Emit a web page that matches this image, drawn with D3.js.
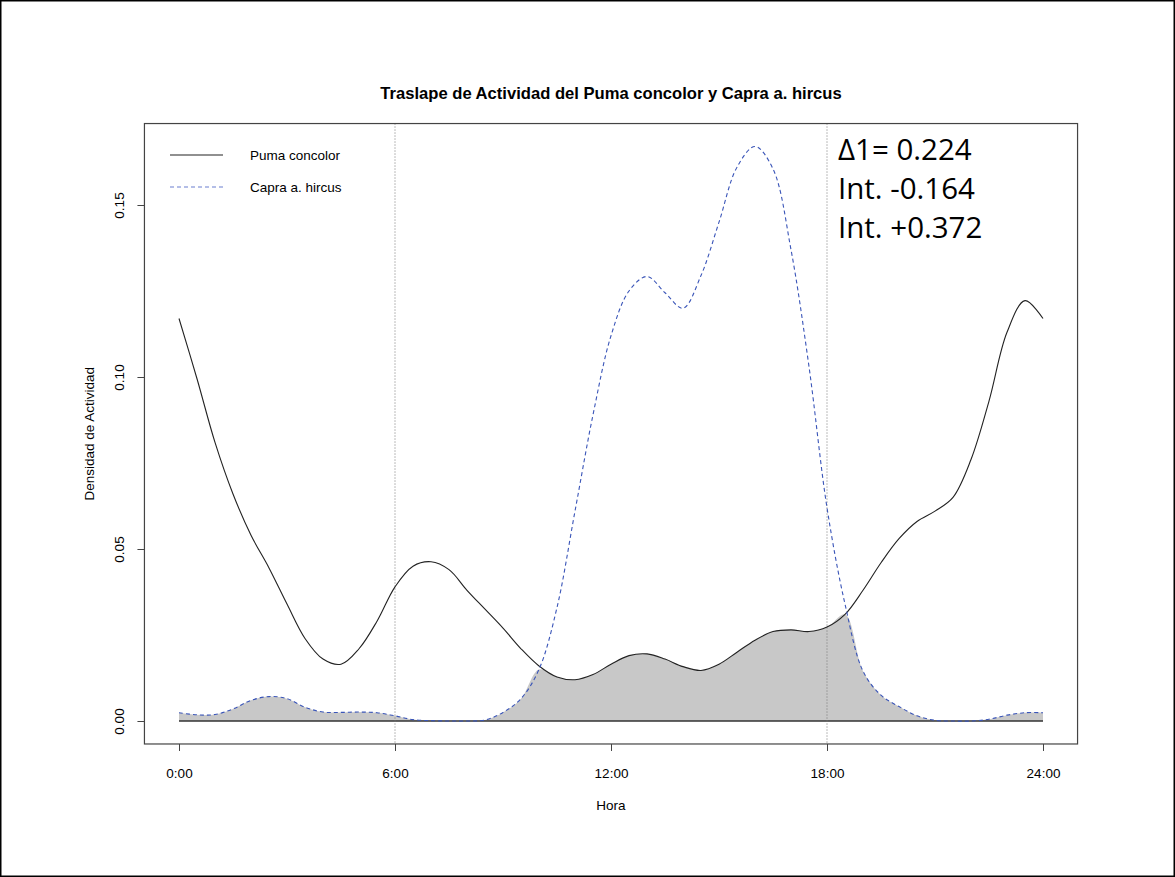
<!DOCTYPE html>
<html>
<head>
<meta charset="utf-8">
<script src="https://cdn.jsdelivr.net/npm/d3@7"></script>
<style>
  html, body { margin: 0; padding: 0; background: #fff; }
  svg { display: block; }
  text { font-family: "Liberation Sans", Arial, sans-serif; fill: #000; }
</style>
</head>
<body>
<svg id="chart" width="1175" height="877"></svg>
<script>
// Hour of day sampled every half hour
const hours = [0,0.5,1,1.5,2,2.5,3,3.5,4,4.5,5,5.5,6,6.5,7,7.5,8,8.5,9,9.5,10,10.5,11,11.5,12,
               12.5,13,13.5,14,14.5,15,15.5,16,16.5,17,17.5,18,18.5,19,19.5,20,20.5,21,21.5,22,22.5,23,23.5,24];

// Kernel activity density, Puma concolor
const puma = [0.117,0.0995,0.081,0.066,0.054,0.0445,0.034,0.024,0.018,0.0165,0.021,0.029,0.039,0.045,0.0463,0.044,0.038,
              0.0325,0.027,0.021,0.016,0.0128,0.012,0.0135,0.0165,0.019,0.0195,0.018,0.0158,0.0147,0.0165,0.020,0.0235,
              0.026,0.0265,0.026,0.0273,0.031,0.038,0.046,0.053,0.058,0.061,0.065,0.076,0.093,0.113,0.1222,0.117];

// Kernel activity density, Capra a. hircus
const capra = [0.0024,0.0018,0.0019,0.0035,0.0060,0.0071,0.0065,0.0040,0.0026,0.0025,0.0026,0.0024,0.0015,0.0004,0.0001,0,0,
               0.0003,0.0025,0.0065,0.015,0.033,0.061,0.089,0.112,0.125,0.1292,0.1245,0.120,0.1295,0.145,0.161,0.167,
               0.1605,0.137,0.103,0.062,0.034,0.0145,0.0075,0.0042,0.0015,0.0002,0,0,0.0005,0.0017,0.0024,0.0024];

const xTicks = [0, 6, 12, 18, 24];
const xTickLabels = ["0:00", "6:00", "12:00", "18:00", "24:00"];
const yTicks = [0, 0.05, 0.10, 0.15];
const yTickLabels = ["0.00", "0.05", "0.10", "0.15"];
const refHours = [6, 18];
const seriesNames = ["Puma concolor", "Capra a. hircus"];
const statLines = ["\u03941= 0.224", "Int. -0.164", "Int. +0.372"];
const titleText = "Traslape de Actividad del Puma concolor y Capra a. hircus";

const svg = d3.select("#chart");

// Outer frame of the figure
svg.append("rect").attr("x", 0.75).attr("y", 0.75).attr("width", 1173.5).attr("height", 875.5)
  .attr("fill", "none").attr("stroke", "#000").attr("stroke-width", 1.5);

// Scales, with the usual 4% padding around the data range
const x = d3.scaleLinear().domain([0, 24]).range([179, 1043]);
const yMax = d3.max(capra.concat(puma));
const y = d3.scaleLinear().domain([0, 0.15]).range([721, 205]);
const xPad = 24 * 0.04, yPad = yMax * 0.04;
const box = { x0: x(-xPad), x1: x(24 + xPad), y0: y(yMax + yPad), y1: y(-yPad) };

const pts = hours.map((h, i) => ({ h, p: puma[i], c: capra[i], m: Math.min(puma[i], capra[i]) }));
const curve = d3.curveCatmullRom.alpha(0.5);
const clampY = v => y(Math.max(0, v));

// Overlap area: the minimum of both densities
svg.append("path")
  .datum(pts)
  .attr("fill", "#c8c8c8")
  .attr("d", d3.area().curve(curve).x(d => x(d.h)).y0(y(0)).y1(d => clampY(d.m)));

// Baseline of the overlap polygon
svg.append("line").attr("x1", x(0)).attr("x2", x(24)).attr("y1", y(0)).attr("y2", y(0))
  .attr("stroke", "#333").attr("stroke-width", 1.4);

// Reference lines at sunrise / sunset
svg.selectAll("line.ref").data(refHours).join("line").attr("class", "ref")
  .attr("x1", d => x(d)).attr("x2", d => x(d)).attr("y1", box.y0).attr("y2", box.y1)
  .attr("stroke", "#777").attr("stroke-width", 1).attr("stroke-dasharray", "1,2");

// Density curves
const lineGen = key => d3.line().curve(curve).x(d => x(d.h)).y(d => clampY(d[key]));
svg.append("path").datum(pts).attr("fill", "none").attr("stroke", "#222").attr("stroke-width", 1.1)
  .attr("d", lineGen("p"));
svg.append("path").datum(pts).attr("fill", "none").attr("stroke", "#3a55b8").attr("stroke-width", 1.1)
  .attr("stroke-dasharray", "4,3").attr("d", lineGen("c"));

// Plot box
svg.append("rect").attr("x", box.x0).attr("y", box.y0)
  .attr("width", box.x1 - box.x0).attr("height", box.y1 - box.y0)
  .attr("fill", "none").attr("stroke", "#444").attr("stroke-width", 1.2);

// X axis
const xAxis = svg.append("g").attr("transform", `translate(0,${box.y1})`)
  .call(d3.axisBottom(x).tickValues(xTicks).tickFormat((d, i) => xTickLabels[i])
        .tickSize(7).tickPadding(17).tickSizeOuter(0));
xAxis.select(".domain").remove();
xAxis.selectAll("line").attr("stroke", "#444");
xAxis.selectAll("text").attr("font-size", 13.5).attr("font-family", "Liberation Sans, Arial, sans-serif");

// Y axis with vertical labels
const yAxis = svg.append("g").attr("transform", `translate(${box.x0},0)`)
  .call(d3.axisLeft(y).tickValues(yTicks).tickFormat((d, i) => yTickLabels[i])
        .tickSize(7).tickSizeOuter(0));
yAxis.select(".domain").remove();
yAxis.selectAll("line").attr("stroke", "#444");
yAxis.selectAll("text")
  .attr("x", 0).attr("dy", 0)
  .attr("text-anchor", "middle")
  .attr("transform", "translate(-20,0) rotate(-90)")
  .attr("font-size", 13.5).attr("font-family", "Liberation Sans, Arial, sans-serif");

// Titles
const cx = (box.x0 + box.x1) / 2;
svg.append("text").attr("x", cx).attr("y", 99).attr("text-anchor", "middle")
  .attr("font-size", 16.6).attr("font-weight", "bold").text(titleText);
svg.append("text").attr("x", cx).attr("y", 810).attr("text-anchor", "middle")
  .attr("font-size", 13.5).text("Hora");
svg.append("text").attr("transform", `translate(94,${(box.y0 + box.y1) / 2}) rotate(-90)`)
  .attr("text-anchor", "middle").attr("font-size", 13.5).text("Densidad de Actividad");

// Legend
const legend = svg.append("g");
const legendRows = [
  { name: seriesNames[0], stroke: "#222", dash: null, y: 155 },
  { name: seriesNames[1], stroke: "#6a7fd0", dash: "4,3", y: 187 }
];
legendRows.forEach(r => {
  legend.append("line").attr("x1", 170).attr("x2", 223).attr("y1", r.y).attr("y2", r.y)
    .attr("stroke", r.stroke).attr("stroke-width", 1.1).attr("stroke-dasharray", r.dash);
  legend.append("text").attr("x", 250).attr("y", r.y + 5).attr("font-size", 13.5).text(r.name);
});

// Overlap statistics
svg.append("g").selectAll("text").data(statLines).join("text")
  .attr("x", 838).attr("y", (d, i) => 160 + i * 39)
  .attr("font-size", 29.5)
  .style("font-family", "'Open Sans', sans-serif")
  .text(d => d);
</script>
</body>
</html>
